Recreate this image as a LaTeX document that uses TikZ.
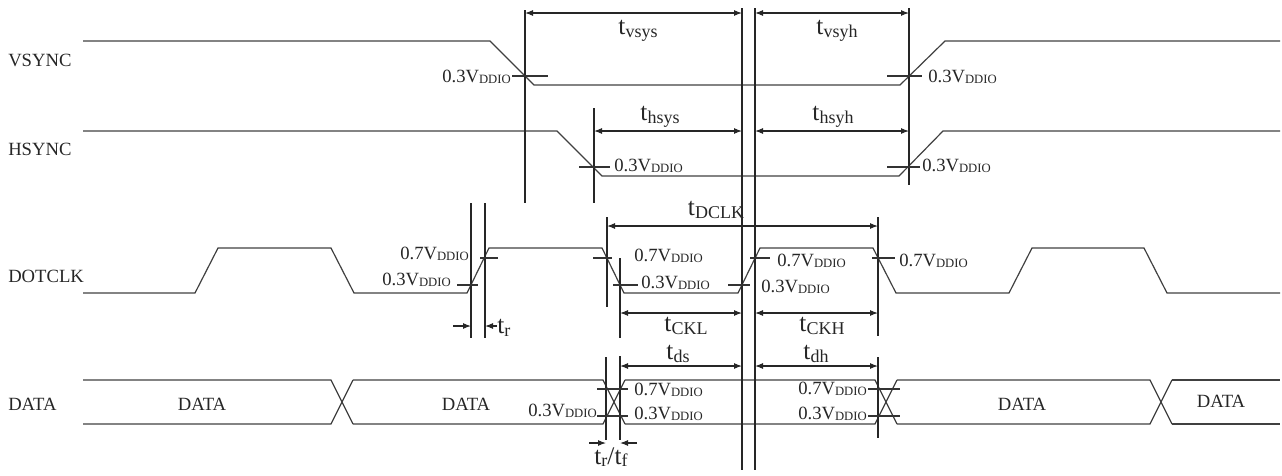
\documentclass[tikz,border=0pt]{standalone}
\usepackage{fontspec}
\setmainfont{Liberation Serif}
\usetikzlibrary{arrows.meta}
\newcommand\vdd[1]{{\fontsize{14}{14}\selectfont #1V}\raisebox{-1pt}{\fontsize{9.5}{9.5}\selectfont DDIO}}
\newcommand\tsb[1]{{\fontsize{19}{19}\selectfont t}\raisebox{-2pt}{\fontsize{13.5}{13.5}\selectfont #1}}
\begin{document}
\begin{tikzpicture}[x=0.75pt,y=-0.75pt,
  sig/.style={line width=0.9pt,black!75,line join=miter},
  guide/.style={line width=0.8pt,black!85},
  tickln/.style={line width=0.8pt,black!80},
  dimarr/.style={line width=0.8pt,black!85,{Latex[length=6pt,width=4.5pt]}-{Latex[length=6pt,width=4.5pt]}},
  onearr/.style={line width=0.8pt,black!85,-{Latex[length=6pt,width=4.5pt]}},
  signame/.style={font=\fontsize{14}{14}\selectfont,inner sep=0pt,anchor=west,text=black!85},
  lv/.style={inner sep=0pt,text=black!85},
  tl/.style={inner sep=0pt,text=black!85}]
\useasboundingbox (0,0) rectangle (1282,475);

% signal names
\node[signame] (nv) at (8,60) {VSYNC};
\node[signame] (nh) at (8,149) {HSYNC};
\node[signame] (nc) at (8,276) {DOTCLK};
\node[signame] (nd) at (8,404) {DATA};

% VSYNC
\draw[sig] (83,41) -- (490,41) -- (534,85) -- (900,85) -- (945,41) -- (1280,41);
% HSYNC
\draw[sig] (83,131) -- (557,131) -- (602,176) -- (899,176) -- (943,131) -- (1280,131);
% DOTCLK
\draw[sig] (83,293) -- (195,293) -- (218,248) -- (331,248) -- (354,293) -- (467,293) -- (489,248) -- (602,248) -- (624,293) -- (738,293) -- (760,248) -- (873,248) -- (896,293) -- (1009,293) -- (1032,248) -- (1144,248) -- (1167,293) -- (1280,293);
% DATA
\draw[sig] (83,380) -- (331,380) -- (353,424) (83,424) -- (331,424) -- (353,380);
\draw[sig] (353,380) -- (603,380) -- (625,424) (353,424) -- (603,424) -- (625,380);
\draw[sig] (625,380) -- (875,380) -- (897,424) (625,424) -- (875,424) -- (897,380);
\draw[sig] (897,380) -- (1150,380) -- (1172,424) (897,424) -- (1150,424) -- (1172,380);
\draw[sig] (1172,380) -- (1280,380) (1172,424) -- (1280,424);

% guide lines
\draw[guide] (525,10) -- (525,203);
\draw[guide] (594,108) -- (594,203);
\draw[guide] (742,8) -- (742,470);
\draw[guide] (755,8) -- (755,470);
\draw[guide] (909,8) -- (909,185);
\draw[guide] (471,203) -- (471,338);
\draw[guide] (485,203) -- (485,338);
\draw[guide] (607,217) -- (607,307);
\draw[guide] (620,258) -- (620,338);
\draw[guide] (620,356) -- (620,440);
\draw[guide] (606,357) -- (606,440);
\draw[guide] (878,217) -- (878,336);
\draw[guide] (878,357) -- (878,438);

% level ticks
\draw[tickln] (512,76) -- (548,76);
\draw[tickln] (887,76) -- (922,76);
\draw[tickln] (579,167) -- (610,167);
\draw[tickln] (887,167) -- (920,167);
\draw[tickln] (480,258) -- (498,258);
\draw[tickln] (457,285) -- (478,285);
\draw[tickln] (593,258) -- (612,258);
\draw[tickln] (613,285) -- (638,285);
\draw[tickln] (728,285) -- (750,285);
\draw[tickln] (750,258) -- (770,258);
\draw[tickln] (872,258) -- (895,258);
\draw[tickln] (597,389) -- (628,389);
\draw[tickln] (597,416) -- (628,416);
\draw[tickln] (868,389) -- (900,389);
\draw[tickln] (868,416) -- (900,416);

% dimension arrows
\draw[dimarr] (525,13) -- (742,13);
\draw[dimarr] (755,13) -- (909,13);
\draw[dimarr] (594,131) -- (742,131);
\draw[dimarr] (755,131) -- (909,131);
\draw[dimarr] (607,226) -- (878,226);
\draw[dimarr] (620,313) -- (742,313);
\draw[dimarr] (755,313) -- (878,313);
\draw[dimarr] (620,366) -- (742,366);
\draw[dimarr] (755,366) -- (878,366);
\draw[onearr] (453,326) -- (471,326);
\draw[onearr] (497,326) -- (485,326);
\draw[onearr] (589,443) -- (606,443);
\draw[onearr] (637,443) -- (620,443);

% timing labels
\node[tl] (tvsys) at (638,31) {\tsb{vsys}};
\node[tl] (tvsyh) at (837,31) {\tsb{vsyh}};
\node[tl] (thsys) at (660,117) {\tsb{hsys}};
\node[tl] (thsyh) at (833,117) {\tsb{hsyh}};
\node[tl] (tdclk) at (716,210) {\tsb{DCLK}};
\node[tl] (tckl) at (686,326) {\tsb{CKL}};
\node[tl] (tckh) at (822,326) {\tsb{CKH}};
\node[tl] (tds) at (678,354) {\tsb{ds}};
\node[tl] (tdh) at (816,354) {\tsb{dh}};
\node[tl,anchor=west] (tr) at (497,328) {\tsb{r}};
\node[tl] (trtf) at (611,457) {{\fontsize{19}{19}\selectfont t}\raisebox{-2pt}{\fontsize{13.5}{13.5}\selectfont r}{\fontsize{19}{19}\selectfont /t}\raisebox{-2pt}{\fontsize{13.5}{13.5}\selectfont f}};

% level labels
\node[lv,anchor=east] (v1) at (511,77) {\vdd{0.3}};
\node[lv,anchor=west] (v2) at (928,77) {\vdd{0.3}};
\node[lv,anchor=west] (h1) at (614,166) {\vdd{0.3}};
\node[lv,anchor=west] (h2) at (922,166) {\vdd{0.3}};
\node[lv,anchor=east] (c1) at (469,254) {\vdd{0.7}};
\node[lv,anchor=east] (c2) at (451,280) {\vdd{0.3}};
\node[lv,anchor=west] (c3) at (634,256) {\vdd{0.7}};
\node[lv,anchor=west] (c4) at (641,283) {\vdd{0.3}};
\node[lv,anchor=west] (c5) at (777,261) {\vdd{0.7}};
\node[lv,anchor=west] (c6) at (761,287) {\vdd{0.3}};
\node[lv,anchor=west] (c7) at (899,261) {\vdd{0.7}};
\node[lv,anchor=west] (d1) at (634,390) {\vdd{0.7}};
\node[lv,anchor=west] (d2) at (634,414) {\vdd{0.3}};
\node[lv,anchor=east] (d3) at (597,411) {\vdd{0.3}};
\node[lv,anchor=east] (d4) at (867,389) {\vdd{0.7}};
\node[lv,anchor=east] (d5) at (867,414) {\vdd{0.3}};

% data labels
\node[signame,anchor=center] (da1) at (202,404) {DATA};
\node[signame,anchor=center] (da2) at (466,404) {DATA};
\node[signame,anchor=center] (da3) at (1022,404) {DATA};
\node[signame,anchor=center] (da4) at (1221,401) {DATA};
\end{tikzpicture}
\end{document}
